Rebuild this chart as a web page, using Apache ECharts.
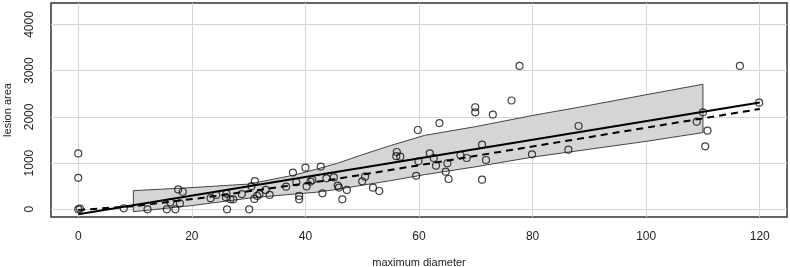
<!DOCTYPE html>
<html>
<head>
<meta charset="utf-8">
<script src="https://cdn.jsdelivr.net/npm/echarts@6/dist/echarts.min.js"></script>
<style>
  html, body { margin: 0; padding: 0; background: #fff; }
  #chart { width: 790px; height: 267px; }
</style>
</head>
<body>
<div id="chart"></div>
<script>
// observed points
var diameter = [0, 0, 0, 0.3, 8, 12.2, 15.6, 16.2, 17.1, 17.6, 17.9, 18.4,
  23.3, 24.3, 26.0, 26.1, 26.2, 26.8, 27.3, 28.8, 30.1, 30.5, 31.1, 31.0, 31.5, 31.9,
  33.0, 33.7, 36.6, 37.8, 38.4, 38.9, 38.9, 40.0, 40.2, 40.9, 41.2, 42.7, 43.0, 43.7,
  45.0, 45.7, 45.9, 46.5, 47.3, 50.0, 50.5, 51.9, 53.0, 56.1, 56.0, 56.7, 59.8, 59.9,
  59.5, 61.9, 62.6, 63.0, 63.6, 64.7, 65.0, 65.2, 67.3, 68.4, 69.9, 69.9, 71.1, 71.8,
  71.1, 73.0, 76.3, 77.7, 79.9, 86.3, 88.1, 108.9, 110.0, 110.8, 110.4, 116.5, 119.9];
var area = [1210, 680, 0, 15, 20, 0, 0, 150, 0, 430, 130, 380,
  240, 310, 260, 340, 0, 215, 215, 330, 0, 500, 610, 225, 290, 330,
  420, 310, 490, 795, 585, 290, 215, 900, 495, 600, 634, 925, 346, 671,
  690, 510, 470, 216, 420, 605, 706, 468, 396, 1240, 1150, 1139, 1716, 1040,
  725, 1212, 1110, 944, 1865, 814, 996, 656, 1170, 1110, 2208, 2099, 1400, 1067,
  640, 2050, 2355, 3102, 1190, 1290, 1803, 1896, 2099, 1701, 1363, 3102, 2307];

// straight fit (solid)
var fitX = [0, 120];
var fitY = [-108, 2310];

// smooth fit (dashed)
var smoothX = [0, 10, 22, 33, 44.3, 60, 80, 100, 120];
var smoothY = [-15, 70, 250, 440, 634, 953, 1360, 1766, 2171];

// grey band
var bandX = [9.7, 20, 30, 38, 42, 45.5, 50, 55, 61, 70, 80, 90, 100, 110];
var bandUpper = [403, 470, 545, 740, 870, 990, 1180, 1380, 1600, 1790, 2030, 2250, 2480, 2706];
var bandLower = [-52, 80, 240, 330, 370, 430, 520, 620, 750, 920, 1130, 1300, 1470, 1660];

var xTicks = [0, 20, 40, 60, 80, 100, 120];
var yTicks = [0, 1000, 2000, 3000, 4000];

var myChart = echarts.init(document.getElementById('chart'));

var points = diameter.map(function (d, i) { return [d, area[i]]; });
var fitLine = fitX.map(function (d, i) { return [d, fitY[i]]; });
var smoothLine = smoothX.map(function (d, i) { return [d, smoothY[i]]; });

var bandPoly = [];
bandX.forEach(function (x, i) { bandPoly.push([x, bandUpper[i]]); });
for (var i = bandX.length - 1; i >= 0; i--) { bandPoly.push([bandX[i], bandLower[i]]); }

var font = 'Liberation Sans, Arial, sans-serif';
var gridLine = { show: true, lineStyle: { color: '#d4d4d4', width: 1 } };

var option = {
  animation: false,
  grid: {
    left: 51, right: 3, top: 3, bottom: 50,
    outerBoundsMode: 'none',
    containLabel: false,
    show: true, borderColor: '#333', borderWidth: 1.5, backgroundColor: 'transparent'
  },
  xAxis: {
    type: 'value', min: -4.8, max: 124.8,
    name: 'maximum diameter', nameLocation: 'middle', nameGap: 40,
    nameTextStyle: { fontFamily: font, fontSize: 11, color: '#222' },
    axisLine: { show: false },
    axisTick: { show: false, customValues: xTicks },
    axisLabel: { customValues: xTicks, fontFamily: font, fontSize: 12, color: '#222', margin: 14 },
    splitLine: gridLine
  },
  yAxis: {
    type: 'value', min: -167, max: 4465,
    name: 'lesion area', nameLocation: 'middle', nameGap: 38, nameRotate: 90,
    nameTextStyle: { fontFamily: font, fontSize: 11, color: '#222' },
    axisLine: { show: false },
    axisTick: { show: false, customValues: yTicks },
    axisLabel: {
      customValues: yTicks, rotate: 90, fontFamily: font, fontSize: 12, color: '#222', margin: 15,
      formatter: function (v) { return String(v); }
    },
    splitLine: gridLine
  },
  series: [
    {
      type: 'custom',
      data: [[bandX[0], bandLower[0]]],
      clip: true,
      z: 1,
      renderItem: function (params, api) {
        var pts = bandPoly.map(function (p) { return api.coord(p); });
        return {
          type: 'polygon',
          shape: { points: pts },
          style: { fill: '#d5d5d5', stroke: '#444', lineWidth: 1 }
        };
      }
    },
    {
      type: 'scatter',
      data: points,
      symbol: 'circle',
      symbolSize: 7,
      z: 3,
      itemStyle: { color: 'transparent', borderColor: '#111', borderWidth: 1.2 }
    },
    {
      type: 'line',
      data: fitLine,
      showSymbol: false,
      z: 4,
      lineStyle: { color: '#000', width: 2 }
    },
    {
      type: 'line',
      data: smoothLine,
      showSymbol: false,
      z: 4,
      lineStyle: { color: '#000', width: 2, type: [7, 5] }
    }
  ]
};

myChart.setOption(option);
</script>
</body>
</html>
